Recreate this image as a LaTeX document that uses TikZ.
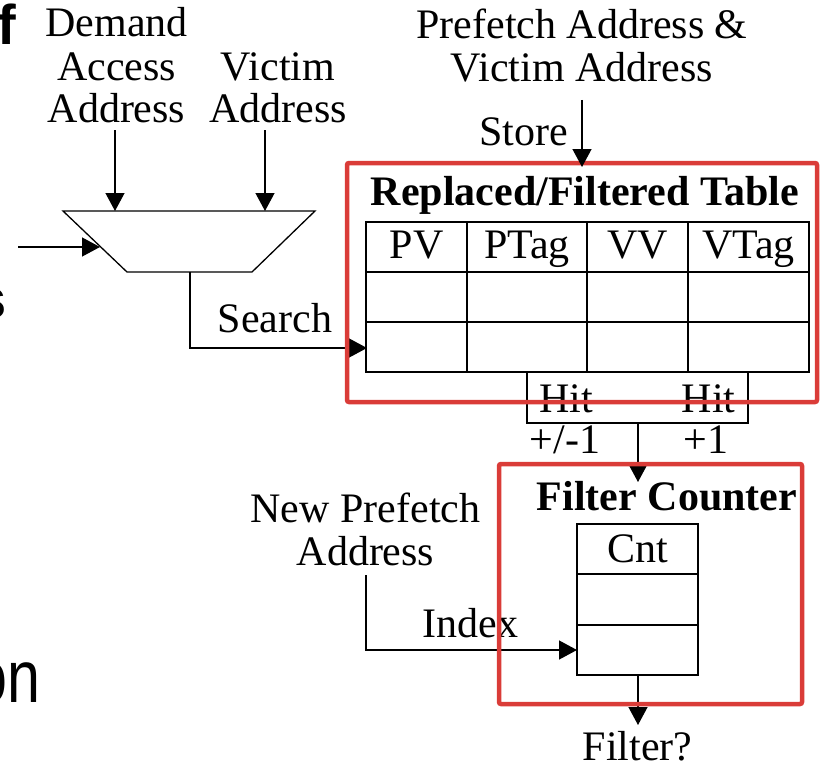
\documentclass[tikz,border=0pt]{standalone}
\usepackage{fontspec}
\setmainfont{Liberation Serif}
\newfontfamily\slidefont{Liberation Sans}
\usetikzlibrary{arrows.meta}
\definecolor{boxred}{RGB}{218,60,56}
\begin{document}
\begin{tikzpicture}[x=1pt,y=-1pt,
  lbl/.style={font=\fontsize{42}{43}\selectfont, inner sep=0pt, align=center, anchor=base},
  boldlbl/.style={font=\fontsize{42}{43}\selectfont\bfseries, inner sep=0pt, anchor=base},
  frag/.style={font=\slidefont\fontsize{56}{56}\selectfont\bfseries, inner sep=0pt, anchor=base east},
  wire/.style={line width=1.3pt, draw=black},
  arr/.style={wire, -{Triangle[length=18pt,width=19pt]}},
  boxcell/.style={draw=black, line width=1.3pt, inner sep=0pt},
  redbox/.style={draw=boxred, line width=4.5pt, rounded corners=2pt}
]
\useasboundingbox (0,0) rectangle (821,765);

% fragments of slide text cut off at the left edge
\node[frag] (fragf) at (16,45) {f};
\node[frag] (frags) at (7,318) {s};
\node[frag, font=\slidefont\fontsize{74}{74}\selectfont, xscale=0.8] (fragon) at (41,702) {on};

% input labels
\node[lbl] (demand) at (116.5,123) {Demand\\Access\\Address};
\node[lbl] (victim) at (278,123) {Victim\\Address};
\node[lbl] (pref) at (582,82) {Prefetch Address \&\\Victim Address};
\node[lbl] (store) at (523.5,146) {Store};
\node[lbl] (search) at (275,332) {Search};
\node[lbl] (newpf) at (365.5,565) {New Prefetch\\Address};
\node[lbl] (index) at (470.5,637) {Index};

% multiplexer
\coordinate (muxTL) at (63,211);
\coordinate (muxTR) at (315,211);
\coordinate (muxBR) at (252,272);
\coordinate (muxBL) at (127,272);
\draw[wire] (muxTL) -- (muxTR) -- (muxBR) -- (muxBL) -- cycle;
\coordinate (muxD) at (115,211);
\coordinate (muxV) at (265,211);
\coordinate (muxS) at (100,247);
\coordinate (selIn) at (18,247);
\coordinate (muxOut) at (190,272);
\coordinate (demTail) at (115,130);
\coordinate (vicTail) at (265,130);

% replaced / filtered table
\node[boldlbl] (rftitle) at (585,205) {Replaced/Filtered Table};
\node[boxcell, minimum width=443pt, minimum height=150pt] (tbl) at (587.5,297) {};
\draw[wire] (366,272) -- (809,272);
\draw[wire] (366,322) -- (809,322);
\draw[wire] (467,222) -- (467,372);
\draw[wire] (587,222) -- (587,372);
\draw[wire] (688,222) -- (688,372);
\node[lbl] (hPV) at (416.5,258) {PV};
\node[lbl] (hPTag) at (527,258) {PTag};
\node[lbl] (hVV) at (637.5,258) {VV};
\node[lbl] (hVTag) at (748.5,258) {VTag};
\coordinate (tblIn) at (367,348);
\coordinate (tblStore) at (582,167);
\coordinate (storeTail) at (582,100);

% hit combining box
\coordinate (hitL) at (527,372);
\coordinate (hitR) at (748,372);
\coordinate (hitBL) at (527,423);
\coordinate (hitBR) at (748,423);
\coordinate (hitOut) at (638,423);
\draw[wire] (hitL) -- (hitBL) -- (hitBR) -- (hitR);
\node[lbl] (hit1) at (566.5,412) {Hit};
\node[lbl] (hit2) at (708.5,412) {Hit};
\node[lbl] (pm1) at (565,453) {+/-1};
\node[lbl] (p1) at (706,453) {+1};

% filter counter
\node[boldlbl] (fctitle) at (667,510) {Filter Counter};
\node[boxcell, minimum width=121pt, minimum height=151pt] (cnt) at (637.5,599.5) {};
\draw[wire] (577,574) -- (698,574);
\draw[wire] (577,625) -- (698,625);
\node[lbl] (cntlbl) at (637.5,562) {Cnt};
\coordinate (cntIn) at (577,650);
\coordinate (cntTop) at (638,482);
\coordinate (cntBot) at (638,675);
\coordinate (filtTip) at (638,725);
\coordinate (idxTail) at (366,575);
\node[lbl] (filterq) at (637.5,760) {Filter?};

% connectors
\draw[arr] (demTail) -- (muxD);
\draw[arr] (vicTail) -- (muxV);
\draw[arr] (selIn) -- (muxS);
\draw[arr] (muxOut) |- (tblIn);
\draw[arr] (hitOut) -- (cntTop);
\draw[arr] (idxTail) |- (cntIn);
\draw[arr] (cntBot) -- (filtTip);

% red highlight boxes
\draw[redbox] (347,163) rectangle (817,402);
\draw[redbox] (499,464) rectangle (802,704);

\draw[arr] (storeTail) -- (tblStore);
\end{tikzpicture}
\end{document}
